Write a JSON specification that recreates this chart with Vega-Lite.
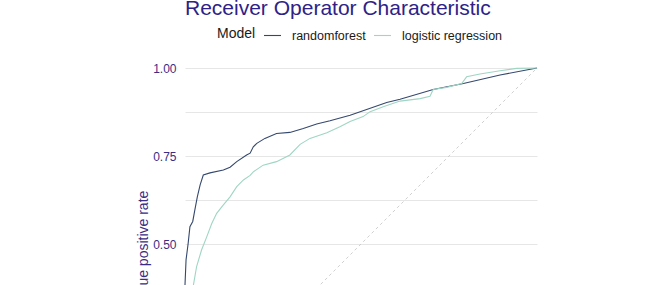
{
  "$schema": "https://vega.github.io/schema/vega-lite/v6.json",
  "autosize": "none",
  "width": 352,
  "height": 352,
  "padding": {"left": 185, "top": 68, "right": 135, "bottom": 60},
  "background": "white",
  "title": {
    "text": "Receiver Operator Characteristic",
    "anchor": "start",
    "frame": "group",
    "font": "Liberation Sans",
    "fontSize": 21,
    "fontWeight": "normal",
    "color": "#2e2288",
    "baseline": "alphabetic",
    "offset": 12,
    "dy": 22
  },
  "config": {
    "view": {"stroke": null},
    "font": "Liberation Sans"
  },
  "layer": [
    {
      "data": {"values": [{"fpr": 0, "tpr": 0}, {"fpr": 1, "tpr": 1}]},
      "mark": {"type": "line", "color": "#c4c4c4", "strokeWidth": 0.8, "strokeDash": [3, 3]},
      "encoding": {
        "x": {"field": "fpr", "type": "quantitative", "scale": {"domain": [0, 1], "nice": false}},
        "y": {"field": "tpr", "type": "quantitative", "scale": {"domain": [0, 1], "nice": false}}
      }
    },
    {
      "data": {
        "values": [
          {"model": "randomforest", "fpr": 0.0, "tpr": 0.0},
          {"model": "randomforest", "fpr": 0.0, "tpr": 0.14},
          {"model": "randomforest", "fpr": 0.0, "tpr": 0.27},
          {"model": "randomforest", "fpr": 0.0, "tpr": 0.384},
          {"model": "randomforest", "fpr": 0.003, "tpr": 0.455},
          {"model": "randomforest", "fpr": 0.009, "tpr": 0.502},
          {"model": "randomforest", "fpr": 0.014, "tpr": 0.549},
          {"model": "randomforest", "fpr": 0.022, "tpr": 0.564},
          {"model": "randomforest", "fpr": 0.028, "tpr": 0.597},
          {"model": "randomforest", "fpr": 0.035, "tpr": 0.634},
          {"model": "randomforest", "fpr": 0.043, "tpr": 0.668},
          {"model": "randomforest", "fpr": 0.052, "tpr": 0.696},
          {"model": "randomforest", "fpr": 0.071, "tpr": 0.702},
          {"model": "randomforest", "fpr": 0.109, "tpr": 0.71},
          {"model": "randomforest", "fpr": 0.128, "tpr": 0.718},
          {"model": "randomforest", "fpr": 0.147, "tpr": 0.734},
          {"model": "randomforest", "fpr": 0.175, "tpr": 0.753},
          {"model": "randomforest", "fpr": 0.185, "tpr": 0.758},
          {"model": "randomforest", "fpr": 0.194, "tpr": 0.776},
          {"model": "randomforest", "fpr": 0.204, "tpr": 0.786},
          {"model": "randomforest", "fpr": 0.227, "tpr": 0.8},
          {"model": "randomforest", "fpr": 0.26, "tpr": 0.814},
          {"model": "randomforest", "fpr": 0.298, "tpr": 0.817},
          {"model": "randomforest", "fpr": 0.336, "tpr": 0.828},
          {"model": "randomforest", "fpr": 0.374, "tpr": 0.841},
          {"model": "randomforest", "fpr": 0.412, "tpr": 0.85},
          {"model": "randomforest", "fpr": 0.469, "tpr": 0.866},
          {"model": "randomforest", "fpr": 0.516, "tpr": 0.882},
          {"model": "randomforest", "fpr": 0.573, "tpr": 0.902},
          {"model": "randomforest", "fpr": 0.611, "tpr": 0.911},
          {"model": "randomforest", "fpr": 0.705, "tpr": 0.939},
          {"model": "randomforest", "fpr": 0.791, "tpr": 0.956},
          {"model": "randomforest", "fpr": 0.895, "tpr": 0.98},
          {"model": "randomforest", "fpr": 1.0, "tpr": 1.0},
          {"model": "logistic regression", "fpr": 0.0, "tpr": 0.0},
          {"model": "logistic regression", "fpr": 0.004, "tpr": 0.11},
          {"model": "logistic regression", "fpr": 0.009, "tpr": 0.21},
          {"model": "logistic regression", "fpr": 0.016, "tpr": 0.3},
          {"model": "logistic regression", "fpr": 0.024, "tpr": 0.384},
          {"model": "logistic regression", "fpr": 0.033, "tpr": 0.436},
          {"model": "logistic regression", "fpr": 0.047, "tpr": 0.483},
          {"model": "logistic regression", "fpr": 0.062, "tpr": 0.521},
          {"model": "logistic regression", "fpr": 0.076, "tpr": 0.558},
          {"model": "logistic regression", "fpr": 0.09, "tpr": 0.587},
          {"model": "logistic regression", "fpr": 0.109, "tpr": 0.611},
          {"model": "logistic regression", "fpr": 0.128, "tpr": 0.634},
          {"model": "logistic regression", "fpr": 0.147, "tpr": 0.663},
          {"model": "logistic regression", "fpr": 0.166, "tpr": 0.682},
          {"model": "logistic regression", "fpr": 0.185, "tpr": 0.695},
          {"model": "logistic regression", "fpr": 0.194, "tpr": 0.705},
          {"model": "logistic regression", "fpr": 0.222, "tpr": 0.724},
          {"model": "logistic regression", "fpr": 0.26, "tpr": 0.734},
          {"model": "logistic regression", "fpr": 0.298, "tpr": 0.753},
          {"model": "logistic regression", "fpr": 0.327, "tpr": 0.783},
          {"model": "logistic regression", "fpr": 0.355, "tpr": 0.8},
          {"model": "logistic regression", "fpr": 0.403, "tpr": 0.816},
          {"model": "logistic regression", "fpr": 0.44, "tpr": 0.833},
          {"model": "logistic regression", "fpr": 0.469, "tpr": 0.848},
          {"model": "logistic regression", "fpr": 0.506, "tpr": 0.862},
          {"model": "logistic regression", "fpr": 0.526, "tpr": 0.876},
          {"model": "logistic regression", "fpr": 0.563, "tpr": 0.89},
          {"model": "logistic regression", "fpr": 0.611, "tpr": 0.906},
          {"model": "logistic regression", "fpr": 0.668, "tpr": 0.913},
          {"model": "logistic regression", "fpr": 0.696, "tpr": 0.92},
          {"model": "logistic regression", "fpr": 0.705, "tpr": 0.939},
          {"model": "logistic regression", "fpr": 0.743, "tpr": 0.945},
          {"model": "logistic regression", "fpr": 0.786, "tpr": 0.956},
          {"model": "logistic regression", "fpr": 0.8, "tpr": 0.975},
          {"model": "logistic regression", "fpr": 0.838, "tpr": 0.983},
          {"model": "logistic regression", "fpr": 0.895, "tpr": 0.992},
          {"model": "logistic regression", "fpr": 0.942, "tpr": 0.999},
          {"model": "logistic regression", "fpr": 1.0, "tpr": 1.0}
        ]
      },
      "mark": {"type": "line", "strokeWidth": 1.1, "interpolate": "linear"},
      "encoding": {
        "x": {
          "field": "fpr",
          "type": "quantitative",
          "scale": {"domain": [0, 1], "nice": false},
          "axis": {
            "title": "False positive rate",
            "grid": false,
            "domain": false,
            "ticks": false,
            "values": [0, 0.25, 0.5, 0.75, 1],
            "format": ".2f",
            "labelColor": "#3b2d85",
            "labelFontSize": 12,
            "titleColor": "#3b2d85",
            "titleFontSize": 14,
            "titleFontWeight": "normal"
          }
        },
        "y": {
          "field": "tpr",
          "type": "quantitative",
          "scale": {"domain": [0, 1], "nice": false},
          "axis": {
            "title": "True positive rate",
            "values": [0, 0.125, 0.25, 0.375, 0.5, 0.625, 0.75, 0.875, 1],
            "labelExpr": "(datum.value * 4) % 1 == 0 ? format(datum.value, '.2f') : ''",
            "grid": true,
            "gridColor": "#e6e6e6",
            "gridWidth": 1,
            "domain": false,
            "ticks": false,
            "labelPadding": 9,
            "labelColor": "#3b2d85",
            "labelFontSize": 12,
            "titleColor": "#3b2d85",
            "titleFontSize": 14,
            "titleFontWeight": "normal",
            "titlePadding": 2
          }
        },
        "color": {
          "field": "model",
          "type": "nominal",
          "scale": {
            "domain": ["randomforest", "logistic regression"],
            "range": ["#34486e", "#9fd6c3"]
          },
          "legend": {
            "title": "Model",
            "orient": "none",
            "legendX": 32,
            "legendY": -42,
            "direction": "horizontal",
            "titleOrient": "left",
            "titleFontSize": 14,
            "titleFontWeight": "normal",
            "titleColor": "#1a1a1a",
            "titlePadding": 7,
            "labelFontSize": 12.5,
            "labelColor": "#1a1a1a",
            "symbolType": "stroke",
            "symbolSize": 289,
            "symbolStrokeWidth": 1.1,
            "columnPadding": 5,
            "labelOffset": 10
          }
        },
        "order": [{"field": "fpr"}, {"field": "tpr"}]
      }
    }
  ]
}
